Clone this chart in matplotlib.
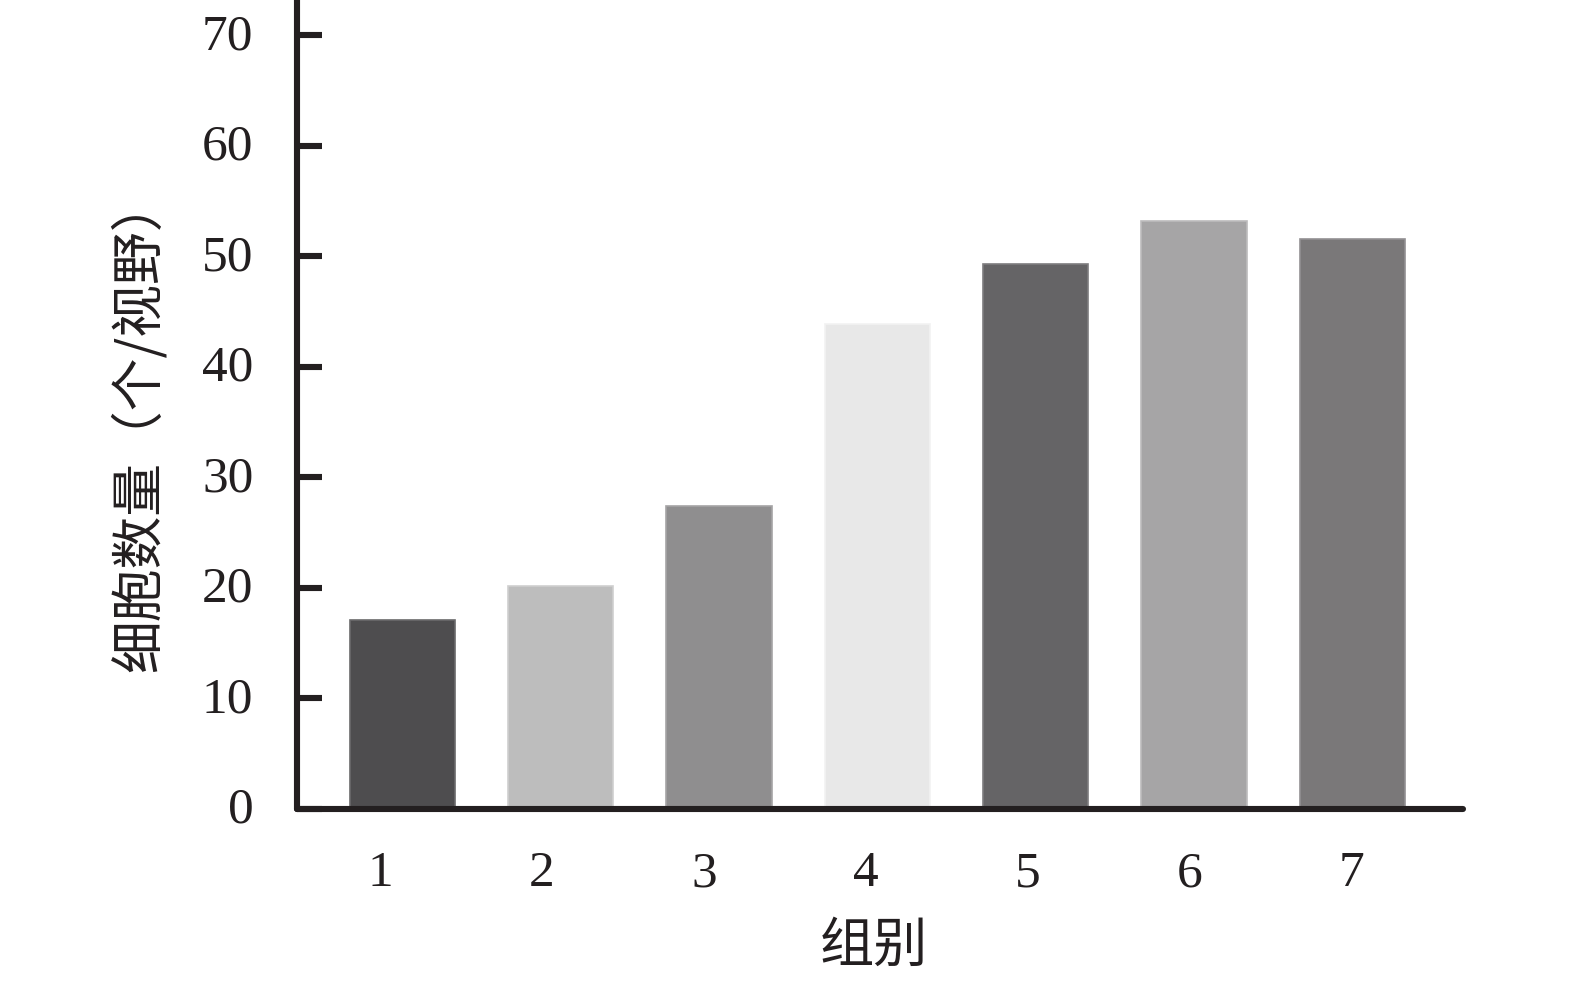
import matplotlib
matplotlib.use("Agg")
import matplotlib.pyplot as plt
import matplotlib.transforms as mtrans

# data
groups = [1, 2, 3, 4, 5, 6, 7]
cell_counts = [17.1, 20.2, 27.4, 43.9, 49.3, 53.2, 51.6]
bar_colors = ["#4e4d4f", "#bdbdbd", "#8f8e8f", "#e8e8e8", "#656466", "#a6a5a6", "#7a7879"]
edge_colors = ["#6a696b", "#cfcfcf", "#a5a4a5", "#f2f2f2", "#7e7d7f", "#bcbbbc", "#929092"]
y_ticks = [0, 10, 20, 30, 40, 50, 60, 70]
# the group labels in the original sit on a slightly wider spacing than the bars
x_label_pos = [0.858, 1.881, 2.904, 3.927, 4.950, 5.973, 6.996]

W, H = 1575, 984
fig = plt.figure(figsize=(W / 100, H / 100), dpi=100)

# axes placement in pixels
x0, x1 = 296.5, 1463
y_zero = 809
ax = fig.add_axes([x0 / W, (H - y_zero) / H, (x1 - x0) / W, y_zero / H])

ax.bar(groups, cell_counts, width=0.665, color=bar_colors, edgecolor=edge_colors, linewidth=1.2, zorder=2)

ax.set_xlim(0.33, 7.70)
ax.set_ylim(0, 73.2)
ax.set_yticks(y_ticks)
ax.set_xticks(x_label_pos)
ax.set_xticklabels([str(g) for g in groups])

axis_col = "#231f20"
for side in ["top", "right"]:
    ax.spines[side].set_visible(False)
for side in ["left", "bottom"]:
    ax.spines[side].set_linewidth(4.4)
    ax.spines[side].set_color(axis_col)
    ax.spines[side].set_capstyle("round")
    ax.spines[side].set_zorder(3)

serif = "Liberation Serif"
ax.tick_params(axis="y", direction="in", length=18, width=4.4, color=axis_col,
               pad=31, labelsize=37, labelcolor=axis_col)
ax.tick_params(axis="x", length=0, pad=30, labelsize=37, labelcolor=axis_col)
for lab in ax.get_xticklabels() + ax.get_yticklabels():
    lab.set_fontfamily(serif)

# nudge the y labels up a little so the digits sit level with the ticks
shift = mtrans.ScaledTranslation(0, 4 / 100, fig.dpi_scale_trans)
for lab in ax.get_yticklabels():
    lab.set_transform(lab.get_transform() + shift)

cjk = ["Noto Sans CJK SC", "DejaVu Sans"]
fig.text(139 / W, 1 - 424 / H, "细胞数量（个/视野）", rotation=90, ha="center", va="center",
         fontsize=38, family=cjk, color=axis_col)
fig.text(874 / W, 1 - 946 / H, "组别", ha="center", va="center",
         fontsize=39, family=cjk, color=axis_col)

fig.savefig("out.png", dpi=100)
